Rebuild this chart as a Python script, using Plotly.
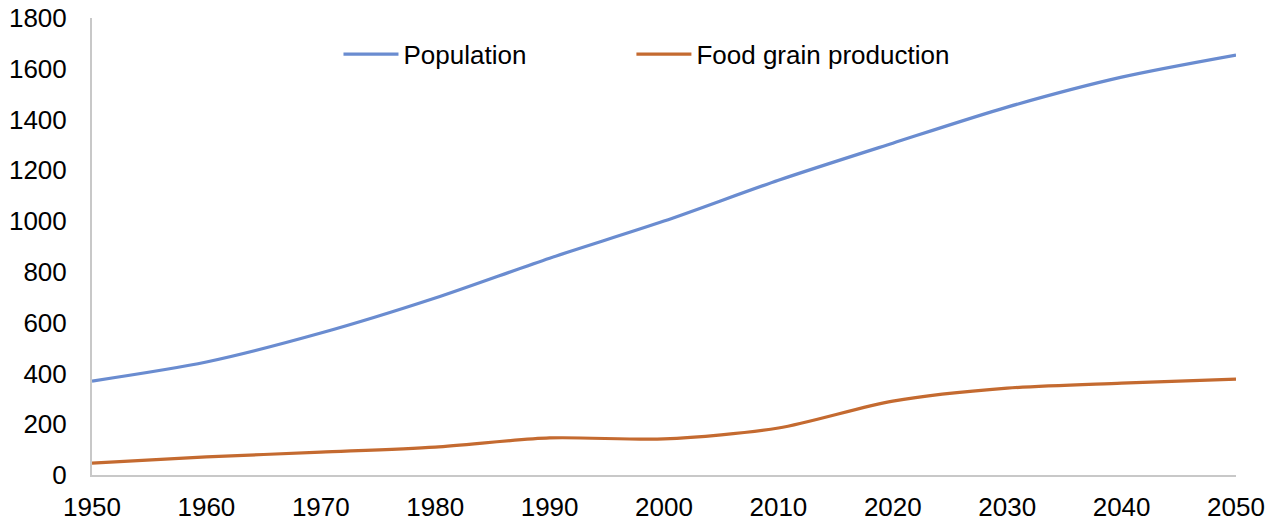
import plotly.graph_objects as go

years = [1950, 1960, 1970, 1980, 1990, 2000, 2010, 2020, 2030, 2040, 2050]
population = [370, 445, 559, 697, 854, 1000, 1161, 1307, 1449, 1567, 1654]
food_grain = [47, 71, 90, 110, 146, 142, 185, 291, 342, 362, 378]

x_ticks = [1950, 1960, 1970, 1980, 1990, 2000, 2010, 2020, 2030, 2040, 2050]
y_ticks = [0, 200, 400, 600, 800, 1000, 1200, 1400, 1600, 1800]

fig = go.Figure()
fig.add_trace(go.Scatter(x=years, y=population, name="Population", mode="lines",
                         line=dict(color="#6A8CD0", width=3.2, shape="spline", smoothing=0.8),
                         legend="legend"))
fig.add_trace(go.Scatter(x=years, y=food_grain, name="Food grain production", mode="lines",
                         line=dict(color="#C46A30", width=3.2, shape="spline", smoothing=0.8),
                         legend="legend2"))

legend_common = dict(orientation="h", xref="container", yref="container",
                     y=0.896, xanchor="left", yanchor="middle",
                     font=dict(size=26), bgcolor="rgba(0,0,0,0)", itemwidth=55)

fig.update_layout(
    width=1272, height=521,
    margin=dict(l=92, r=36, t=18, b=46, autoexpand=False),
    paper_bgcolor="white", plot_bgcolor="white",
    font=dict(family="Liberation Sans, Arial, sans-serif", size=26, color="black"),
    showlegend=True,
    legend=dict(x=0.2661, **legend_common),
    legend2=dict(x=0.4964, **legend_common),
)
fig.update_xaxes(range=[1950, 2050], tickvals=x_ticks, ticktext=[str(t) for t in x_ticks],
                 showgrid=False, zeroline=False, showline=True, linecolor="#C8C8C8", linewidth=2,
                 ticks="", tickfont=dict(size=26), ticklabelstandoff=8)
fig.update_yaxes(range=[0, 1800], tickvals=y_ticks, showgrid=False, zeroline=False,
                 showline=True, linecolor="#C8C8C8", linewidth=2, ticks="", tickfont=dict(size=26),
                 ticklabelstandoff=18)

fig.write_html("out.html")
